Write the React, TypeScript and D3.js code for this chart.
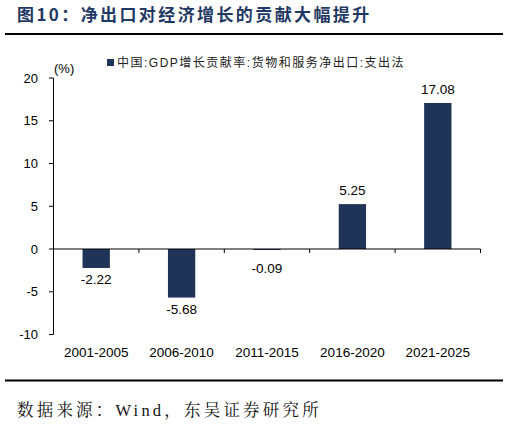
import * as d3 from 'd3';
import { useMemo } from 'react';

const periods = ['2001-2005', '2006-2010', '2011-2015', '2016-2020', '2021-2025'];
const values = [-2.22, -5.68, -0.09, 5.25, 17.08];
const yTicks = [-10, -5, 0, 5, 10, 15, 20];

const title = '图10：净出口对经济增长的贡献大幅提升';
const legendLabel = '中国:GDP增长贡献率:货物和服务净出口:支出法';
const source = '数据来源：Wind，东吴证券研究所';

const W = 509;
const H = 428;
const barColor = '#203457';
const titleColor = '#1f3864';
const sans = '"Liberation Sans", Arial, "Noto Sans CJK SC", sans-serif';
const cjk = '"Liberation Serif", "Noto Serif CJK SC", "Noto Sans CJK SC", serif';

export default function App() {
  const x = useMemo(
    () => d3.scaleBand().domain(periods).range([53.5, 480.5]).paddingInner(0.68).paddingOuter(0.34),
    []
  );
  const y = useMemo(() => d3.scaleLinear().domain([-10, 20]).range([334.5, 78]), []);
  const bands = useMemo(() => d3.scaleBand().domain(periods).range([53.5, 480.5]), []);

  return (
    <svg
      width={W}
      height={H}
      style={{ position: 'absolute', left: 0, top: 0, background: '#fff' }}
    >
      <text x={17} y={21} fontSize={17} letterSpacing={2.4} fontWeight="bold" fill={titleColor} fontFamily='"Noto Sans CJK SC", sans-serif'>
        {title}
      </text>
      <line x1={5} x2={503} y1={34} y2={34} stroke="#000" strokeWidth={2} />

      {/* y axis */}
      <line x1={53.5} x2={53.5} y1={y(20)} y2={y(-10)} stroke="#000" />
      {yTicks.map((t) => (
        <g key={t}>
          <line x1={49} x2={53.5} y1={y(t)} y2={y(t)} stroke="#000" />
          <text x={38} y={y(t)} dy="0.35em" textAnchor="end" fontSize={13} fontFamily={sans}>
            {t}
          </text>
        </g>
      ))}
      <text x={54} y={73} fontSize={13} fontFamily={sans}>(%)</text>

      {/* bars */}
      {periods.map((p, i) => {
        const v = values[i];
        const y0 = y(0);
        const yv = y(v);
        const top = Math.min(y0, yv);
        const h = Math.max(Math.abs(yv - y0), 1);
        const cx = (x(p) ?? 0) + x.bandwidth() / 2;
        return (
          <g key={p}>
            <rect x={x(p)} y={top} width={x.bandwidth()} height={h} fill={barColor} />
            <text
              x={cx}
              y={v >= 0 ? yv - 9 : Math.max(yv, y0 + 8) + 16}
              textAnchor="middle"
              fontSize={13.5}
              fontFamily={sans}
            >
              {v.toFixed(2)}
            </text>
          </g>
        );
      })}

      {/* x axis at zero */}
      <line x1={53.5} x2={480.5} y1={y(0)} y2={y(0)} stroke="#000" />
      {periods.map((p) => (
        <line key={p} x1={(bands(p) ?? 0) + bands.bandwidth()} x2={(bands(p) ?? 0) + bands.bandwidth()} y1={y(0)} y2={y(0) + 4} stroke="#000" />
      ))}
      {periods.map((p) => (
        <text
          key={p}
          x={(bands(p) ?? 0) + bands.bandwidth() / 2}
          y={357}
          textAnchor="middle"
          fontSize={13.5}
          fontFamily={sans}
        >
          {p}
        </text>
      ))}

      {/* legend */}
      <rect x={107} y={59} width={7} height={7} fill={barColor} />
      <text x={117} y={67} fontSize={12} letterSpacing={1.5} fontFamily={sans} fill="#222">
        {legendLabel}
      </text>

      <line x1={5} x2={503} y1={380.5} y2={380.5} stroke="#000" strokeWidth={2} />
      <text x={17} y={416} fontSize={16.5} letterSpacing={3.2} fontFamily={cjk} fill="#111">
        {source}
      </text>
    </svg>
  );
}
